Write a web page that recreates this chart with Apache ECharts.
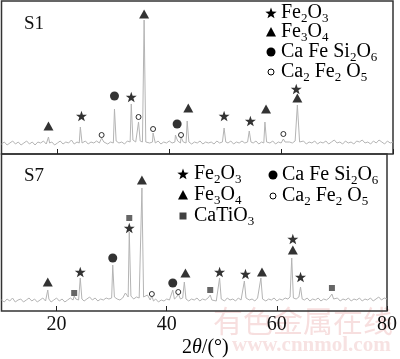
<!DOCTYPE html>
<html><head><meta charset="utf-8">
<script src="https://cdn.jsdelivr.net/npm/echarts@6/dist/echarts.min.js"></script>
<style>html,body{margin:0;padding:0;background:#fff}#c{width:400px;height:359px}</style>
</head><body><div id="c"></div>
<script>
const tickLabels = [20, 40, 60, 80];

// XRD pattern S1: [2theta, intensity]
const s1Pattern = [[10,10],[10.5,12],[11,9],[11.5,11],[12,13],[12.5,10],[13,12],[13.5,9],[14,11],[14.5,13],[15,10],[15.5,12],[16,9],[16.5,12],[17,11],[17.5,13],[18,10],[18.4,17],[18.6,11],[19,12],[19.5,9],[20,11],[20.5,13],[21,10],[21.5,12],[22,11],[22.5,14],[23,10],[23.5,12],[23.9,11],[24.1,27],[24.4,11],[25,13],[25.5,10],[26,12],[26.5,11],[27,13],[27.5,11],[27.9,16],[28.3,12],[29,10],[29.5,12],[30,11],[30.2,45],[30.5,13],[31,11],[31.5,12],[32,10],[32.5,13],[33,12],[33.2,50],[33.5,14],[34,12],[34.5,32],[34.8,13],[35.2,12],[35.5,134],[35.8,12],[36.5,11],[37,12],[37.1,21],[37.5,11],[38,13],[38.5,10],[39,12],[39.5,11],[40,13],[40.5,11],[41,12],[41.1,19],[41.5,13],[42,11],[42.1,17],[42.5,12],[43,11],[43.2,33],[43.5,12],[44,10],[44.5,12],[45,11],[45.5,13],[46,10],[46.5,12],[47,11],[47.5,12],[48,10],[48.5,13],[49,11],[49.5,12],[49.8,26],[50.1,12],[50.5,11],[51,13],[51.5,10],[52,12],[52.5,11],[53,13],[53.5,11],[54,12],[54.3,23],[54.6,12],[55,11],[55.5,13],[56,10],[56.5,12],[56.9,11],[57.1,32],[57.4,12],[58,11],[58.5,13],[59,10],[59.5,12],[60,11],[60.4,15],[60.7,12],[61,10],[61.5,12],[62,11],[62.5,13],[62.9,49],[63.3,12],[63.5,11],[64,13],[64.5,10],[65,12],[65.5,11],[66,13],[66.5,10],[67,12],[67.5,11],[68,13],[68.5,10],[69,12],[69.5,14],[70,11],[70.5,12],[71,10],[71.5,13],[72,11],[72.5,12],[73,10],[73.5,13],[74,12],[74.5,14],[75,11],[75.5,12],[76,10],[76.5,13],[77,11],[77.5,14],[78,12],[78.5,10],[79,13],[79.5,11],[80,12]];

// XRD pattern S7: [2theta, intensity]
const s7Pattern = [[10,11],[10.5,9],[11,12],[11.5,10],[12,13],[12.5,9],[13,11],[13.5,12],[14,9],[14.5,11],[15,13],[15.5,10],[16,12],[16.5,9],[17,11],[17.5,13],[18,10],[18.4,21],[18.6,12],[19,9],[19.5,11],[20,13],[20.5,10],[21,12],[21.5,9],[22,11],[22.5,13],[23,11],[23.2,15],[23.5,12],[24,11],[24.3,33],[24.6,12],[25,10],[25.5,12],[26,14],[26.5,11],[27,13],[27.5,10],[28,12],[28.5,11],[29,13],[29.5,12],[30,13],[30.2,46],[30.5,14],[31,12],[31.5,11],[32,13],[32.5,18],[33,14],[33.2,79],[33.5,15],[34,12],[34.5,14],[35,13],[35.5,123],[35.8,14],[36.1,12],[36.5,16],[37,11],[37.3,15],[37.6,10],[38,12],[38.5,9],[39,11],[39.5,10],[40,12],[40.5,11],[40.8,13],[41.1,21],[41.4,12],[41.8,14],[42.1,17],[42.5,12],[42.9,13],[43.2,29],[43.5,12],[44,10],[44.5,12],[45,11],[45.5,13],[46,10],[46.5,12],[47,11],[47.5,13],[47.9,16],[48.2,11],[48.5,12],[49,10],[49.3,12],[49.6,33],[49.9,12],[50.5,10],[51,13],[51.5,11],[52,12],[52.5,10],[53,13],[53.5,11],[53.8,12],[54.1,30],[54.4,13],[55,11],[55.5,12],[56,10],[56.5,13],[56.8,12],[57.1,33],[57.4,12],[58,10],[58.5,12],[59,11],[59.5,13],[60,10],[60.5,12],[61,11],[61.5,13],[62,12],[62.4,14],[62.7,53],[63,13],[63.5,12],[64,14],[64.3,24],[64.6,12],[65,11],[65.5,13],[66,10],[66.5,12],[67,11],[67.5,13],[68,10],[68.5,12],[69,11],[69.5,13],[70,17],[70.3,12],[70.6,11],[71,13],[71.5,10],[72,12],[72.5,11],[73,13],[73.5,10],[74,12],[74.5,11],[75,13],[75.5,10],[76,12],[76.5,11],[77,13],[77.5,10],[78,12],[78.5,14],[79,11],[79.5,13],[80,12]];

// phase markers [2theta, marker height]
const s1Fe2O3 = [[24.3,38],[33.2,57],[49.8,38],[54.5,33],[62.7,65]];
const s1Fe3O4 = [[18.4,28],[35.5,140],[43.4,46],[57.3,45],[62.9,56]];
const s1CaFeSi2O6 = [[30.2,58],[41.4,30]];
const s1Ca2Fe2O5 = [[27.9,19],[34.5,37],[37.1,25],[42.1,19],[60.4,20]];

const s7Fe2O3 = [[24.3,39],[33.2,83],[49.6,39],[54.3,37],[62.9,72],[64.3,34]];
const s7Fe3O4 = [[18.4,29],[35.5,131],[43.4,38],[57.3,39],[62.9,61]];
const s7CaFeSi2O6 = [[30.2,53],[41.1,28]];
const s7Ca2Fe2O5 = [[37.3,17],[42.1,19]];
const s7CaTiO3 = [[23.2,18],[33.2,93],[47.9,21],[70.0,23]];

const SERIF = "'Liberation Serif','DejaVu Serif',serif";
const STAR = 'path://M0,-10L2.35,-3.24L9.51,-3.09L3.8,1.24L5.88,8.09L0,4L-5.88,8.09L-3.8,1.24L-9.51,-3.09L-2.35,-3.24Z';

function markerStyle(kind) {
  if (kind === 'star') return { symbol: STAR, symbolSize: [11, 10.5], itemStyle: { color: '#000' } };
  if (kind === 'tri') return { symbol: 'triangle', symbolSize: [10, 9], itemStyle: { color: '#000' } };
  if (kind === 'dot') return { symbol: 'circle', symbolSize: 9, itemStyle: { color: '#000' } };
  if (kind === 'ring') return { symbol: 'circle', symbolSize: 5, itemStyle: { color: '#fff', borderColor: '#000', borderWidth: 1 } };
  return { symbol: 'rect', symbolSize: 6, itemStyle: { color: '#404040' } };
}
function scatter(name, data, kind, idx) {
  return Object.assign({ name, type: 'scatter', data, xAxisIndex: idx, yAxisIndex: idx, z: 5, silent: true }, markerStyle(kind));
}
function line(data, idx) {
  return { type: 'line', data, xAxisIndex: idx, yAxisIndex: idx, showSymbol: false, symbol: 'none',
    lineStyle: { color: '#b4b4b4', width: 1 }, z: 2, silent: true };
}

// legend graphics
function starPts(cx, cy, R) {
  const pts = [];
  for (let i = 0; i < 10; i++) {
    const a = -Math.PI / 2 + i * Math.PI / 5;
    const r = i % 2 ? R * 0.4 : R;
    pts.push([cx + r * Math.cos(a), cy + r * Math.sin(a)]);
  }
  return pts;
}
function legIcon(kind, cx, cy) {
  if (kind === 'star') return { type: 'polygon', shape: { points: starPts(cx, cy + 0.5, 6) }, style: { fill: '#000' } };
  if (kind === 'tri') return { type: 'polygon', shape: { points: [[cx, cy - 5], [cx + 5, cy + 4.5], [cx - 5, cy + 4.5]] }, style: { fill: '#000' } };
  if (kind === 'dot') return { type: 'circle', shape: { cx, cy, r: 4.5 }, style: { fill: '#000' } };
  if (kind === 'ring') return { type: 'circle', shape: { cx, cy, r: 3 }, style: { fill: '#fff', stroke: '#000', lineWidth: 1 } };
  return { type: 'rect', shape: { x: cx - 3.5, y: cy - 3.5, width: 7, height: 7 }, style: { fill: '#404040' } };
}
const RICH = {
  n: { fontFamily: SERIF, fontSize: 20, lineHeight: 24, color: '#111' },
  s: { fontFamily: SERIF, fontSize: 13, lineHeight: 13, verticalAlign: 'bottom', color: '#111' }
};
function legText(str, x, cy) {
  return { type: 'text', x, y: cy, style: { text: str, rich: RICH, verticalAlign: 'middle', align: 'left' } };
}
const legendItems = [
  ['star', 271, 13, 281, '{n|Fe}{s|2}{n|O}{s|3}'],
  ['tri', 271, 32, 281, '{n|Fe}{s|3}{n|O}{s|4}'],
  ['dot', 271, 52, 281, '{n|Ca Fe Si}{s|2}{n|O}{s|6}'],
  ['ring', 271, 72, 281, '{n|Ca}{s|2}{n| Fe}{s|2}{n| O}{s|5}'],
  ['star', 183, 174, 194, '{n|Fe}{s|2}{n|O}{s|3}'],
  ['tri', 183, 195, 194, '{n|Fe}{s|3}{n|O}{s|4}'],
  ['sq', 183, 216, 194, '{n|CaTiO}{s|3}'],
  ['dot', 273, 175, 282, '{n|Ca Fe Si}{s|2}{n|O}{s|6}'],
  ['ring', 273, 196, 282, '{n|Ca}{s|2}{n| Fe}{s|2}{n| O}{s|5}']
];
const graphics = [];
legendItems.forEach(function (it) {
  graphics.push(legIcon(it[0], it[1], it[2]));
  graphics.push(legText(it[4], it[3], it[2]));
});
graphics.push({ type: 'text', x: 24, y: 24, style: { text: 'S1', font: '19px ' + SERIF, fill: '#111', verticalAlign: 'middle' } });
graphics.push({ type: 'text', x: 24, y: 176, style: { text: 'S7', font: '19px ' + SERIF, fill: '#111', verticalAlign: 'middle' } });
graphics.push({ type: 'text', x: 182, y: 348, z: 10, style: { text: '{n|2}{i|θ}{n|/(°)}', verticalAlign: 'middle',
  rich: { n: { font: '20px ' + SERIF, color: '#111' }, i: { font: 'italic 20px ' + SERIF, fontStyle: 'italic', color: '#111' } } } });
// watermark
graphics.push({ type: 'text', x: 213, y: 321, z: -1, style: { text: '有色金属在线', font: '30px "Noto Sans CJK SC"', fill: 'rgba(225,140,140,0.28)', verticalAlign: 'middle' } });
graphics.push({ type: 'text', x: 232, y: 346, z: -1, style: { text: 'www.cnnmol.com', font: 'bold 21px ' + SERIF, fill: 'rgba(225,140,140,0.25)', verticalAlign: 'middle' } });

function xAx(idx, showLabel) {
  return {
    type: 'value', gridIndex: idx, min: 10, max: 80,
    axisLine: { show: false }, splitLine: { show: false },
    axisTick: { show: true, inside: true, length: 5, lineStyle: { color: '#222', width: 1 }, customValues: tickLabels },
    axisLabel: { show: showLabel, customValues: tickLabels, margin: 4, fontFamily: SERIF, fontSize: 20, color: '#111' }
  };
}
function yAx(idx, max) {
  return { type: 'value', gridIndex: idx, min: 0, max, show: false, splitLine: { show: false } };
}

const chart = echarts.init(document.getElementById('c'), null, { renderer: 'canvas' });
chart.setOption({
  animation: false,
  backgroundColor: '#fff',
  grid: [
    { left: 1.5, right: 7, top: 1, height: 153, show: true, borderColor: '#333', borderWidth: 1.5, backgroundColor: 'transparent' },
    { left: 1.5, right: 7, top: 154, height: 157, show: true, borderColor: '#333', borderWidth: 1.5, backgroundColor: 'transparent' }
  ],
  xAxis: [xAx(0, false), xAx(1, true)],
  yAxis: [yAx(0, 153), yAx(1, 157)],
  series: [
    line(s1Pattern, 0), line(s7Pattern, 1),
    scatter('Fe2O3', s1Fe2O3, 'star', 0),
    scatter('Fe3O4', s1Fe3O4, 'tri', 0),
    scatter('CaFeSi2O6', s1CaFeSi2O6, 'dot', 0),
    scatter('Ca2Fe2O5', s1Ca2Fe2O5, 'ring', 0),
    scatter('Fe2O3', s7Fe2O3, 'star', 1),
    scatter('Fe3O4', s7Fe3O4, 'tri', 1),
    scatter('CaFeSi2O6', s7CaFeSi2O6, 'dot', 1),
    scatter('Ca2Fe2O5', s7Ca2Fe2O5, 'ring', 1),
    scatter('CaTiO3', s7CaTiO3, 'sq', 1)
  ],
  graphic: graphics
});
</script>
</body></html>
